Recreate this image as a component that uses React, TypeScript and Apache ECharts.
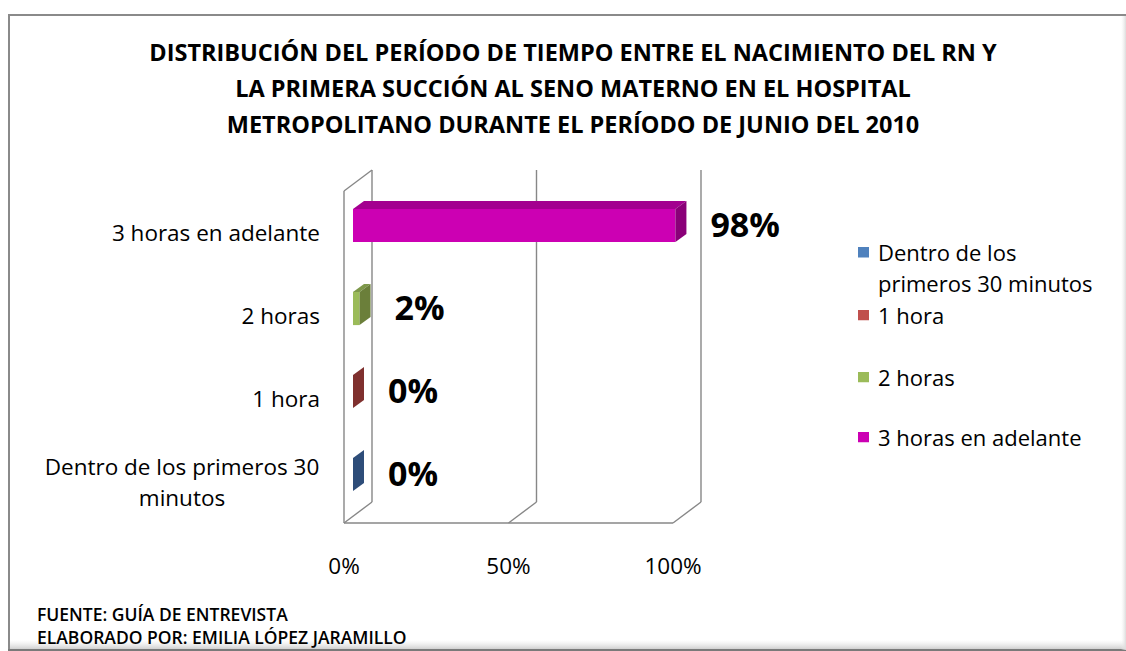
import React, { useEffect, useRef } from "react";
import * as echarts from "echarts";

const categories = [
  "Dentro de los primeros 30 minutos",
  "1 hora",
  "2 horas",
  "3 horas en adelante",
];
const values = [0, 0, 2, 98];
const xTicks = [0, 50, 100];
const titleLines = [
  "DISTRIBUCIÓN DEL PERÍODO DE TIEMPO ENTRE EL NACIMIENTO DEL RN Y",
  "LA PRIMERA SUCCIÓN AL SENO MATERNO EN EL HOSPITAL",
  "METROPOLITANO DURANTE EL PERÍODO DE JUNIO DEL 2010",
];
const footerLines = ["FUENTE: GUÍA DE ENTREVISTA", "ELABORADO POR: EMILIA LÓPEZ JARAMILLO"];

// styles (not data)
const FONT = "'Open Sans'";
const legendColors = ["#4F81BD", "#C0504D", "#9BBB59", "#CC00B3"];
const frontColors = ["#4F81BD", "#C0504D", "#9BBB59", "#CC00B3"];
const topColors = ["#3E6596", "#9C3E3B", "#7E984A", "#A3008F"];
const sideColors = ["#2E4D79", "#7F302E", "#6B7F3A", "#8A0078"];
// first line centre of each legend entry
const legendCenters = [252, 315, 377, 437];

const DEPTH_X = 28;
const DEPTH_Y = 21;
const LEG_LH = 31;

function iconFor(color: string, twoLine: boolean) {
  const h = twoLine ? 42 : 11;
  const svg = `<svg xmlns="http://www.w3.org/2000/svg" width="20" height="${h}" viewBox="0 0 20 ${h}"><rect x="5" y="0" width="11" height="11" fill="${color}"/></svg>`;
  return "image://data:image/svg+xml;charset=utf-8," + encodeURIComponent(svg);
}

export default function App() {
  const ref = useRef<HTMLDivElement>(null);
  useEffect(() => {
    if (!ref.current) return;
    const chart = echarts.init(ref.current, null, { renderer: "svg" });

    const frameSeries = {
      type: "custom",
      name: "frame",
      z: 1,
      silent: true,
      data: xTicks.map((t) => [t, 0]),
      encode: { x: 0, y: 1 },
      renderItem: (params: any, api: any) => {
        const cs = params.coordSys;
        const top = cs.y;
        const bottom = cs.y + cs.height;
        const x = api.coord([api.value(0), 0])[0];
        const stroke = { stroke: "#878787", lineWidth: 1.4 };
        const children: any[] = [
          { type: "line", shape: { x1: x + DEPTH_X, y1: top - DEPTH_Y, x2: x + DEPTH_X, y2: bottom - DEPTH_Y }, style: stroke },
          { type: "line", shape: { x1: x, y1: bottom, x2: x + DEPTH_X, y2: bottom - DEPTH_Y }, style: stroke },
        ];
        if (params.dataIndex === 0) {
          children.push(
            { type: "line", shape: { x1: x, y1: top, x2: x, y2: bottom }, style: stroke },
            { type: "line", shape: { x1: x, y1: top, x2: x + DEPTH_X, y2: top - DEPTH_Y }, style: stroke },
            { type: "line", shape: { x1: cs.x, y1: bottom, x2: cs.x + cs.width, y2: bottom }, style: stroke }
          );
        }
        return { type: "group", children };
      },
    };

    const barSeries = categories.map((name, i) => ({
      type: "custom",
      name,
      z: 2,
      itemStyle: { color: legendColors[i] },
      data: [[values[i], i]],
      encode: { x: 0, y: 1 },
      renderItem: (params: any, api: any) => {
        const v = api.value(0);
        const idx = api.value(1);
        const p0 = api.coord([0, idx]);
        const p1 = api.coord([v, idx]);
        const band = api.size([0, 1])[1];
        const h = band * 0.4;
        const fx = 9, fy = -7, dx = 11, dy = 8;
        const x0 = p0[0] + fx;
        const x1 = p1[0] + fx;
        const yc = p0[1] + fy;
        const y0 = yc - h / 2;
        const y1 = yc + h / 2;
        const children: any[] = [];
        if (x1 > x0) {
          children.push({ type: "rect", shape: { x: x0, y: y0, width: x1 - x0, height: h }, style: { fill: frontColors[i] } });
          children.push({
            type: "polygon",
            shape: { points: [[x0, y0], [x1, y0], [x1 + dx, y0 - dy], [x0 + dx, y0 - dy]] },
            style: { fill: topColors[i] },
          });
        }
        children.push({
          type: "polygon",
          shape: { points: [[x1, y0], [x1 + dx, y0 - dy], [x1 + dx, y1 - dy], [x1, y1]] },
          style: { fill: sideColors[i] },
        });
        children.push({
          type: "text",
          x: x1 + dx + 24,
          y: yc - 2,
          style: {
            text: `${v}%`,
            fill: "#000",
            font: `bold 34px ${FONT}`,
            verticalAlign: "middle",
            align: "left",
          },
        });
        return { type: "group", children };
      },
    }));

    chart.setOption({
      animation: false,
      backgroundColor: "#ffffff",
      title: [
        {
          text: titleLines.join("\n"),
          left: 573,
          top: 34,
          padding: 0,
          textAlign: "center",
          textStyle: { fontFamily: FONT, fontSize: 23.5, fontWeight: "bold", color: "#000", lineHeight: 36 },
        },
        {
          text: footerLines.join("\n"),
          left: 37,
          top: 602.5,
          padding: 0,
          textStyle: { fontFamily: FONT, fontSize: 17.5, fontWeight: 600, color: "#000", lineHeight: 23 },
        },
      ],
      legend: categories.map((name, i) => ({
        data: [name],
        left: 853,
        top: legendCenters[i] - LEG_LH / 2,
        padding: 0,
        icon: iconFor(legendColors[i], i === 0),
        itemWidth: 20,
        itemHeight: i === 0 ? 42 : 11,
        selectedMode: false,
        formatter: (n: string) => (n === categories[0] ? "Dentro de los\nprimeros 30 minutos" : n),
        textStyle: {
          fontFamily: FONT,
          fontSize: 22,
          color: "#000",
          lineHeight: LEG_LH,
        },
      })),
      grid: { left: 344, top: 191, width: 329, height: 332, containLabel: false },
      xAxis: {
        type: "value",
        min: 0,
        max: 100,
        interval: 50,
        axisLine: { show: false },
        axisTick: { show: false },
        splitLine: { show: false },
        axisLabel: { formatter: "{value}%", fontFamily: FONT, fontSize: 22.5, color: "#000", margin: 31 },
      },
      yAxis: {
        type: "category",
        data: categories,
        axisLine: { show: false },
        axisTick: { show: false },
        splitLine: { show: false },
        axisLabel: {
          fontFamily: FONT,
          fontSize: 22.5,
          color: "#000",
          margin: 24,
          lineHeight: 31,
          formatter: (v: string) =>
            v === categories[0] ? "{c|Dentro de los primeros 30}\n{c|minutos}" : v,
          rich: {
            c: { fontFamily: FONT, fontSize: 22.5, color: "#000", lineHeight: 31, width: 276, align: "center" },
          },
        },
      },
      graphic: [
        { type: "line", shape: { x1: 8, y1: 15, x2: 1126, y2: 15 }, style: { stroke: "#8a8a8a", lineWidth: 2 } },
        { type: "line", shape: { x1: 9, y1: 14, x2: 9, y2: 651 }, style: { stroke: "#8a8a8a", lineWidth: 2 } },
        { type: "rect", shape: { x: 10, y: 640, width: 1116, height: 9 }, style: { fill: new echarts.graphic.LinearGradient(0, 0, 0, 1, [{ offset: 0, color: "rgba(230,230,230,0)" }, { offset: 1, color: "#d0d0d0" }]) } },
        { type: "line", shape: { x1: 8, y1: 650, x2: 1126, y2: 650 }, style: { stroke: "#7a7a7a", lineWidth: 2 } },
        { type: "rect", shape: { x: 1121, y: 16, width: 5, height: 634 }, style: { fill: new echarts.graphic.LinearGradient(0, 0, 1, 0, [{ offset: 0, color: "rgba(240,240,240,0)" }, { offset: 1, color: "#dcdcdc" }]) } },
      ],
      series: [frameSeries, ...barSeries],
    });
    return () => chart.dispose();
  }, []);
  return <div ref={ref} style={{ position: "fixed", left: 0, top: 0, width: 1126, height: 651 }} />;
}
